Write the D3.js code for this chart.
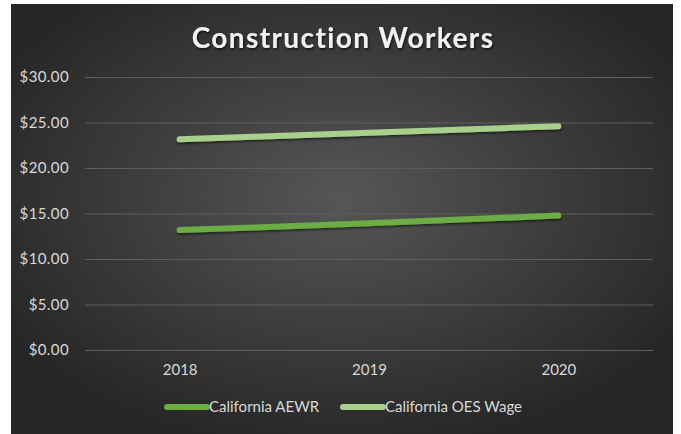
<!DOCTYPE html>
<html>
<head>
<meta charset="utf-8">
<script src="https://cdn.jsdelivr.net/npm/d3@7"></script>
<style>
  html, body { margin: 0; padding: 0; background: #ffffff; }
  svg { display: block; }
  text { font-family: Lato, "Open Sans", "Liberation Sans", sans-serif; }
</style>
</head>
<body>
<svg id="chart" width="681" height="434"></svg>
<script>
// Hourly wage data for construction workers, California
const years = ["2018", "2019", "2020"];
const aewr = [13.18, 13.92, 14.77];
const oesWage = [23.15, 23.87, 24.60];
const yTicks = [0, 5, 10, 15, 20, 25, 30];
const seriesNames = ["California AEWR", "California OES Wage"];
const seriesColors = ["#6cad45", "#a8d08c"];

const svg = d3.select("#chart");
const W = 681, H = 434;
const frame = { x: 11, y: 4, w: 662, h: 430 };
const m = { left: 85, right: 28, top: 77, bottom: 84 };
const plotW = W - m.left - m.right;
const plotH = H - m.top - m.bottom;

const defs = svg.append("defs");
const grad = defs.append("radialGradient")
  .attr("id", "bg").attr("cx", "50%").attr("cy", "45%").attr("r", "60%");
grad.append("stop").attr("offset", "0%").attr("stop-color", "#565656");
grad.append("stop").attr("offset", "100%").attr("stop-color", "#262626");

const shadow = defs.append("filter").attr("id", "shadow")
  .attr("x", "-10%").attr("y", "-50%").attr("width", "120%").attr("height", "200%");
shadow.append("feDropShadow").attr("dx", 0.5).attr("dy", 1.5)
  .attr("stdDeviation", 1.2).attr("flood-color", "#000").attr("flood-opacity", 0.6);

const tshadow = defs.append("filter").attr("id", "tshadow")
  .attr("x", "-10%").attr("y", "-30%").attr("width", "120%").attr("height", "160%");
tshadow.append("feDropShadow").attr("dx", 1).attr("dy", 1.5)
  .attr("stdDeviation", 1).attr("flood-color", "#000").attr("flood-opacity", 0.7);

// chart background
svg.append("rect")
  .attr("x", frame.x).attr("y", frame.y)
  .attr("width", frame.w).attr("height", frame.h)
  .attr("fill", "url(#bg)");

// title
svg.append("text")
  .attr("x", 343).attr("y", 48)
  .attr("text-anchor", "middle")
  .attr("fill", "#f2f2f2")
  .attr("font-size", 28)
  .attr("font-weight", 700)
  .attr("letter-spacing", 1.4)
  .attr("filter", "url(#tshadow)")
  .text("Construction Workers");

const x = d3.scalePoint().domain(years).range([m.left, m.left + plotW]).padding(0.5);
const y = d3.scaleLinear().domain([0, 30]).range([m.top + plotH, m.top]);

// gridlines and value labels
const yAxis = d3.axisLeft(y).tickValues(yTicks)
  .tickSize(-plotW).tickPadding(16)
  .tickFormat(d => "$" + d3.format(".2f")(d));
const gy = svg.append("g").attr("transform", `translate(${m.left},0)`).call(yAxis);
gy.select(".domain").remove();
gy.selectAll(".tick line").attr("stroke", "#5e5e5e").attr("stroke-width", 1);
gy.selectAll(".tick text").attr("fill", "#d9d9d9").attr("font-size", 15)
  .attr("letter-spacing", 0.4);

const xAxis = d3.axisBottom(x).tickSize(0).tickPadding(14);
const gx = svg.append("g").attr("transform", `translate(0,${m.top + plotH})`).call(xAxis);
gx.select(".domain").remove();
gx.selectAll(".tick text").attr("fill", "#d9d9d9").attr("font-size", 15);

// lines
const line = d3.line().x((d, i) => x(years[i])).y(d => y(d));
[aewr, oesWage].forEach((vals, k) => {
  svg.append("path")
    .datum(vals)
    .attr("d", line)
    .attr("fill", "none")
    .attr("stroke", seriesColors[k])
    .attr("stroke-width", 6)
    .attr("stroke-linecap", "round")
    .attr("stroke-linejoin", "round")
    .attr("filter", "url(#shadow)");
});

// legend
const legendY = 407;
const legendX = [167, 343];
seriesNames.forEach((name, k) => {
  const g = svg.append("g").attr("transform", `translate(${legendX[k]},${legendY})`);
  g.append("line")
    .attr("x1", 0).attr("x2", 40).attr("y1", 0).attr("y2", 0)
    .attr("stroke", seriesColors[k]).attr("stroke-width", 6)
    .attr("stroke-linecap", "round");
  g.append("text")
    .attr("x", 42).attr("y", 0).attr("dy", "0.35em")
    .attr("fill", "#d9d9d9").attr("font-size", 15)
    .text(name);
});
</script>
</body>
</html>
